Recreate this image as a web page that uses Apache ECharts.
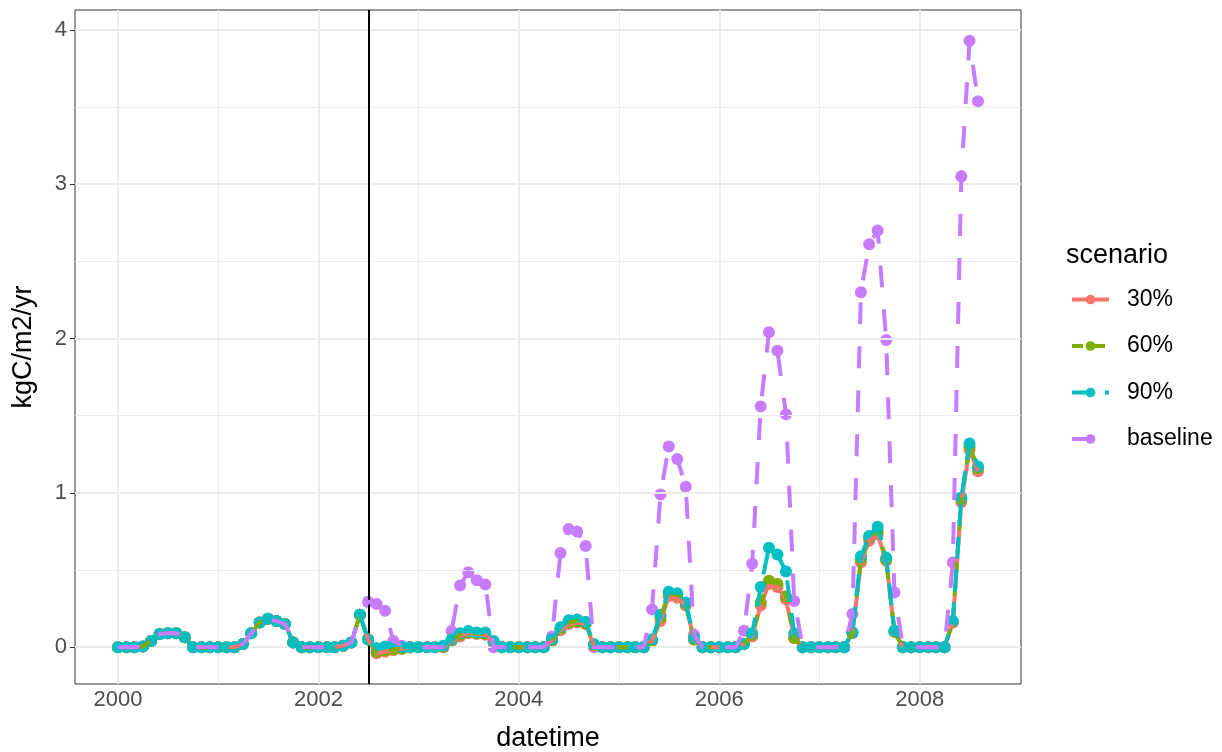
<!DOCTYPE html>
<html><head><meta charset="utf-8">
<script src="https://cdn.jsdelivr.net/npm/echarts@6/dist/echarts.min.js"></script>
<style>html,body{margin:0;padding:0;background:#fff}#chart{width:1222px;height:752px}</style>
</head><body><div id="chart"></div>
<script>
// ---- data (monthly, first of month, 2000-01 .. 2008-08) ----
const firstYear = 2000;
const monthCount = 104;
const scenarioStart = '2002-07-01';
const seriesNames = ['30%', '60%', '90%', 'baseline'];
const seriesColors = ['#F8766D', '#7CAE00', '#00BFC4', '#C77CFF'];

// identical for all series, 2000-01 .. 2002-06
const sharedBefore = [
  0, 0, 0, 0.005, 0.04, 0.085, 0.09, 0.09, 0.065, 0, 0, 0,
  0, 0, 0, 0.02, 0.09, 0.16, 0.185, 0.17, 0.15, 0.03, 0, 0,
  0, 0, 0, 0.01, 0.03, 0.21
];
// 2002-07 .. 2008-08
const baselineAfter = [
  0.295, 0.28, 0.236, 0.04, 0.01, 0,
  0, 0, 0, 0, 0.105, 0.40, 0.486, 0.434, 0.406, 0, 0, 0,
  0, 0, 0, 0, 0.07, 0.61, 0.765, 0.75, 0.655, 0, 0, 0,
  0, 0, 0, 0, 0.245, 0.99, 1.30, 1.22, 1.04, 0.08, 0, 0,
  0, 0, 0, 0.107, 0.54, 1.56, 2.04, 1.92, 1.51, 0.30, 0, 0,
  0, 0, 0, 0, 0.215, 2.30, 2.61, 2.70, 1.99, 0.355, 0, 0,
  0, 0, 0, 0, 0.548, 3.05, 3.93, 3.537
];
const s30After = [
  0.05, -0.04, -0.03, -0.02, -0.01, 0,
  0, 0, 0, 0, 0.04, 0.07, 0.09, 0.085, 0.08, 0.03, 0, 0,
  0, 0, 0, 0, 0.04, 0.11, 0.15, 0.16, 0.15, 0.01, 0, 0,
  0, 0, 0, 0, 0.04, 0.17, 0.33, 0.32, 0.27, 0.05, 0, 0,
  0, 0, 0, 0.02, 0.07, 0.27, 0.41, 0.39, 0.31, 0.06, 0, 0,
  0, 0, 0, 0, 0.09, 0.55, 0.69, 0.73, 0.56, 0.10, 0, 0,
  0, 0, 0, 0, 0.16, 0.94, 1.28, 1.14
];
const s60After = [
  0.05, -0.03, -0.02, -0.015, -0.01, 0,
  0, 0, 0, 0.005, 0.045, 0.08, 0.095, 0.09, 0.085, 0.035, 0, 0,
  0, 0, 0, 0, 0.045, 0.12, 0.16, 0.17, 0.155, 0.015, 0, 0,
  0, 0, 0, 0, 0.045, 0.19, 0.35, 0.34, 0.28, 0.05, 0, 0,
  0, 0, 0, 0.02, 0.08, 0.29, 0.43, 0.41, 0.33, 0.06, 0, 0,
  0, 0, 0, 0, 0.095, 0.57, 0.71, 0.75, 0.57, 0.10, 0, 0,
  0, 0, 0, 0, 0.165, 0.96, 1.30, 1.16
];
const s90After = [
  0.05, -0.005, 0.005, 0.005, 0, 0,
  0, 0, 0, 0.01, 0.05, 0.09, 0.105, 0.095, 0.095, 0.04, 0, 0,
  0, 0, 0, 0, 0.05, 0.13, 0.175, 0.18, 0.165, 0.02, 0, 0,
  0, 0, 0, 0, 0.05, 0.21, 0.36, 0.35, 0.29, 0.06, 0, 0,
  0, 0, 0, 0.02, 0.09, 0.39, 0.645, 0.60, 0.49, 0.09, 0, 0,
  0, 0, 0, 0, 0.097, 0.59, 0.72, 0.78, 0.58, 0.107, 0, 0,
  0, 0, 0, 0, 0.17, 0.97, 1.32, 1.17
];
const xTickLabels = [2000, 2002, 2004, 2006, 2008];
const xMinorBreaks = [2001, 2003, 2005, 2007];
const yTickLabels = [0, 1, 2, 3, 4];
const yMinorBreaks = [0.5, 1.5, 2.5, 3.5];

// ---- build ----
const dates = [];
for (let i = 0; i < monthCount; i++) {
  const y = firstYear + Math.floor(i / 12), m = i % 12 + 1;
  dates.push(y + '-' + String(m).padStart(2, '0') + '-01');
}
function decYear(s) {
  const [y, m, d] = s.split('-').map(Number);
  const t = Date.UTC(y, m - 1, d), t0 = Date.UTC(y, 0, 1), t1 = Date.UTC(y + 1, 0, 1);
  return y + (t - t0) / (t1 - t0);
}
const xs = dates.map(decYear);
const valuesBySeries = [
  sharedBefore.concat(s30After),
  sharedBefore.concat(s60After),
  sharedBefore.concat(s90After),
  sharedBefore.concat(baselineAfter)
];
const allVals = [].concat(...valuesBySeries);
const yLo = Math.min(...allVals), yHi = Math.max(...allVals);
const xLo = xs[0], xHi = xs[xs.length - 1];
const xPad = (xHi - xLo) * 0.05, yPad = (yHi - yLo) * 0.05;

const dashTypes = ['solid', [11, 11], [22, 11], [22, 22]];
const FONT = 'Liberation Sans, Arial, Helvetica, sans-serif';
const series = [];

// gridlines (drawn through the axes' scales)
const gridMark = [];
xTickLabels.forEach(v => gridMark.push({ xAxis: v, lineStyle: { width: 2 } }));
xMinorBreaks.forEach(v => gridMark.push({ xAxis: v, lineStyle: { width: 1 } }));
yTickLabels.forEach(v => gridMark.push({ yAxis: v, lineStyle: { width: 2 } }));
yMinorBreaks.forEach(v => gridMark.push({ yAxis: v, lineStyle: { width: 1 } }));
series.push({
  name: 'grid', type: 'line', data: [[xs[0], 0]], showSymbol: false, symbol: 'none',
  lineStyle: { opacity: 0 }, z: 1, silent: true, animation: false,
  markLine: { silent: true, symbol: ['none', 'none'], label: { show: false }, animation: false,
    lineStyle: { color: '#EBEBEB', type: 'solid' }, data: gridMark }
});

// points: baseline first, then 30, 60, 90
[3, 0, 1, 2].forEach((k, i) => {
  series.push({
    name: 'pts-' + seriesNames[k], type: 'scatter', symbol: 'circle', symbolSize: 12,
    itemStyle: { color: seriesColors[k], opacity: 1 },
    data: xs.map((x, j) => [x, valuesBySeries[k][j]]), z: 3 + i, silent: true, animation: false
  });
});
// lines on top: 30, 60, 90, baseline
[0, 1, 2, 3].forEach((k, i) => {
  series.push({
    name: seriesNames[k], type: 'line', symbol: 'circle', symbolSize: 12, showSymbol: false,
    color: seriesColors[k],
    itemStyle: { color: seriesColors[k] },
    lineStyle: { color: seriesColors[k], width: 4, type: dashTypes[k], cap: 'butt', join: 'round' },
    data: xs.map((x, j) => [x, valuesBySeries[k][j]]), z: 10 + i, silent: true, animation: false
  });
});
// scenario start line
series.push({
  name: 'start', type: 'line', data: [[xs[0], 0]], showSymbol: false, symbol: 'none',
  lineStyle: { opacity: 0 }, z: 20, silent: true, animation: false,
  markLine: { silent: true, symbol: ['none', 'none'], label: { show: false }, animation: false,
    lineStyle: { color: '#000', width: 2, type: 'solid' }, data: [{ xAxis: decYear(scenarioStart) }] }
});

const chart = echarts.init(document.getElementById('chart'), null, { renderer: 'canvas' });
chart.setOption({
  animation: false,
  backgroundColor: '#fff',
  textStyle: { fontFamily: FONT },
  grid: { left: 75, right: 201, top: 10, bottom: 68, show: true, borderColor: '#333333', borderWidth: 1,
    backgroundColor: 'transparent', containLabel: false, outerBoundsMode: 'none' },
  title: { text: 'scenario', left: 1061, top: 237, textStyle: { fontFamily: FONT, fontSize: 27, fontWeight: 'normal', color: '#000' } },
  legend: {
    data: seriesNames, orient: 'vertical', left: 1065, top: 283, itemWidth: 37, itemHeight: 12, itemGap: 23.5,
    lineStyle: { width: 4 },
    itemStyle: { borderWidth: 0 },
    textStyle: { fontFamily: FONT, fontSize: 23, color: '#000', padding: [0, 0, 0, 13] },
    selectedMode: false
  },
  xAxis: {
    type: 'value', min: xLo - xPad, max: xHi + xPad,
    name: 'datetime', nameLocation: 'middle', nameGap: 41,
    nameTextStyle: { fontFamily: FONT, fontSize: 27, color: '#000' },
    axisLine: { show: false },
    axisTick: { show: true, length: 5, lineStyle: { color: '#333333', width: 1 }, customValues: xTickLabels },
    axisLabel: { fontFamily: FONT, fontSize: 22, color: '#4D4D4D', margin: 5, customValues: xTickLabels, formatter: v => String(Math.round(v)) },
    splitLine: { show: false }
  },
  yAxis: {
    type: 'value', min: yLo - yPad, max: yHi + yPad,
    name: 'kgC/m2/yr', nameLocation: 'middle', nameGap: 38, nameRotate: 90,
    nameTextStyle: { fontFamily: FONT, fontSize: 27, color: '#000' },
    axisLine: { show: false },
    axisTick: { show: true, length: 5, lineStyle: { color: '#333333', width: 1 }, customValues: yTickLabels },
    axisLabel: { fontFamily: FONT, fontSize: 22, color: '#4D4D4D', margin: 8, customValues: yTickLabels, formatter: v => String(Math.round(v)) },
    splitLine: { show: false }
  },
  series: series
});
</script>
</body></html>
